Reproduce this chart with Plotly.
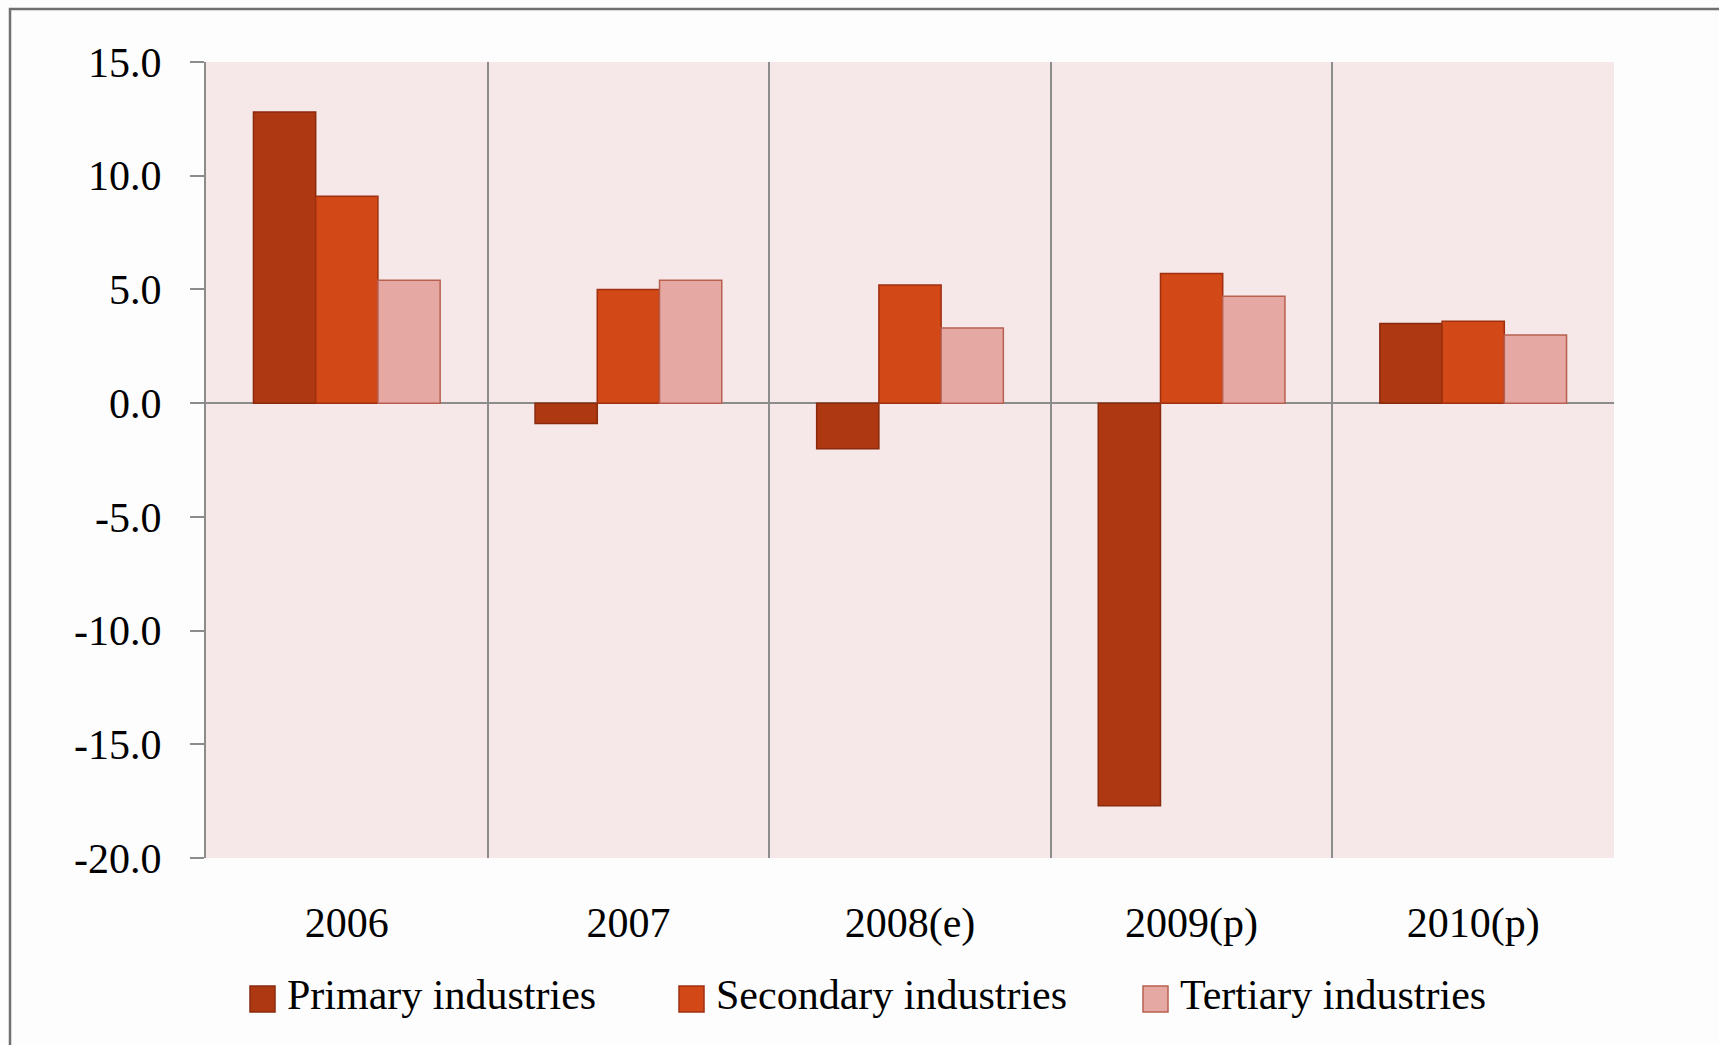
import plotly.graph_objects as go

# Annual growth by sector (%)
years = ["2006", "2007", "2008(e)", "2009(p)", "2010(p)"]
primary = [12.8, -0.9, -2.0, -17.7, 3.5]
secondary = [9.1, 5.0, 5.2, 5.7, 3.6]
tertiary = [5.4, 5.4, 3.3, 4.7, 3.0]

series_names = ["Primary industries", "Secondary industries", "Tertiary industries"]
fill_colors = ["#AD3812", "#D24817", "#E6A8A3"]
edge_colors = ["#8A2A0D", "#9E3010", "#B86050"]

tick_vals = [-20, -15, -10, -5, 0, 5, 10, 15]
tick_text = ["-20.0", "-15.0", "-10.0", "-5.0", "0.0", "5.0", "10.0", "15.0"]

FONT = "Liberation Serif"
FS = 42

W, H = 1719, 1045
ML, MR, MT, MB = 206, 105, 62, 187
PW, PH = W - ML - MR, H - MT - MB


def px_x(x):
    return (x - ML) / PW


def px_y(y):
    return (H - MB - y) / PH


fig = go.Figure()
for name, vals, fc, ec in zip(series_names, [primary, secondary, tertiary], fill_colors, edge_colors):
    fig.add_trace(go.Bar(
        x=years, y=vals, name=name,
        marker=dict(color=fc, line=dict(color=ec, width=1.5)),
        showlegend=False,
    ))

shapes = [
    # outer frame of the chart area
    dict(type="rect", xref="paper", yref="paper",
         x0=px_x(10), x1=px_x(1760), y0=px_y(9), y1=px_y(1100),
         line=dict(color="#707070", width=2.5), fillcolor="rgba(0,0,0,0)", layer="below"),
]
annotations = []

# legend: swatch + label per series
legend_x = [250, 679, 1143]
swatch_y = 999
label_y = 995
for lx, name, fc, ec in zip(legend_x, series_names, fill_colors, edge_colors):
    shapes.append(dict(type="rect", xref="paper", yref="paper",
                       x0=px_x(lx), x1=px_x(lx + 25),
                       y0=px_y(swatch_y - 13), y1=px_y(swatch_y + 13),
                       fillcolor=fc, line=dict(color=ec, width=1.5)))
    annotations.append(dict(xref="paper", yref="paper",
                            x=px_x(lx + 35), y=px_y(label_y),
                            xanchor="left", yanchor="middle", showarrow=False,
                            text=name, font=dict(family=FONT, size=FS, color="#000000")))

fig.update_layout(
    width=W, height=H,
    margin=dict(l=ML, r=MR, t=MT, b=MB, pad=0),
    paper_bgcolor="#FDFDFD",
    plot_bgcolor="#F6E8E8",
    barmode="group",
    bargap=0.337,
    bargroupgap=0,
    font=dict(family=FONT, size=FS, color="#000000"),
    shapes=shapes,
    annotations=annotations,
    xaxis=dict(
        type="category",
        tickson="boundaries",
        showgrid=True, gridcolor="#8C8C8C", gridwidth=2,
        showline=False, ticks="",
        ticklabelstandoff=36,
        tickfont=dict(family=FONT, size=FS, color="#000000"),
        mirror=False,
    ),
    yaxis=dict(
        range=[-20, 15],
        tickvals=tick_vals, ticktext=tick_text,
        showgrid=False,
        zeroline=True, zerolinecolor="#8C8C8C", zerolinewidth=2,
        showline=True, linecolor="#8C8C8C", linewidth=2,
        ticks="outside", ticklen=14, tickcolor="#8C8C8C", tickwidth=2,
        ticklabelstandoff=20,
        tickfont=dict(family=FONT, size=FS, color="#000000"),
    ),
)

fig.write_html("out.html")
